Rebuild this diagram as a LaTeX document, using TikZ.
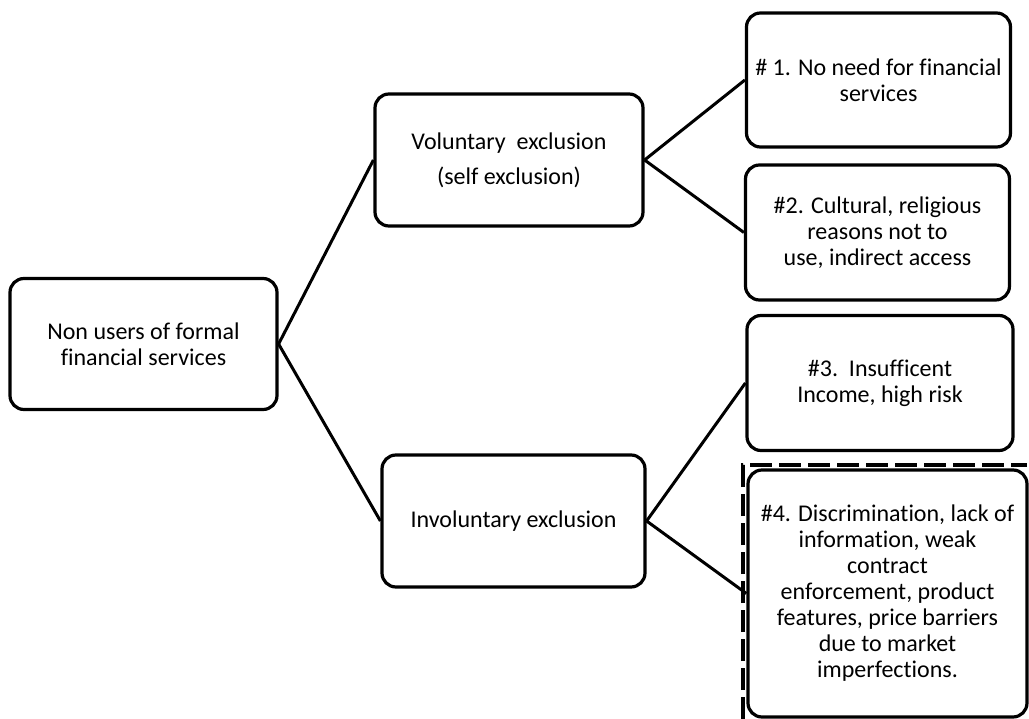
\documentclass[tikz,border=0pt]{standalone}
\usepackage{fontspec}
\setmainfont[Ligatures=NoCommon]{Carlito}
\usepackage{tikz}
\usetikzlibrary{positioning,calc}

\begin{document}
\begin{tikzpicture}[x=1pt,y=-1pt,font=\fontsize{24}{26}\selectfont,
 group/.style={draw,line width=3.2pt,rounded corners=14pt,align=center,inner sep=3pt},
 reason/.style={group,minimum width=264pt,minimum height=134pt},
 link/.style={line width=3pt},
 frame/.style={line width=3.2pt,dash pattern=on 22pt off 7pt}]
\useasboundingbox (0,0) rectangle (1029,719);
\node[group,minimum width=267pt,minimum height=131pt] (nonusers) at (143.5,344) {Non users of formal\\financial services};
\node[group,minimum width=268pt,minimum height=132pt] (vol) at (509,160) {Voluntary\ \ exclusion\\[9pt](self exclusion)};
\node[group,minimum width=263pt,minimum height=132pt] (invol) at (513.5,521) {Involuntary exclusion};
\node[reason] (r1) at (878.5,80) {\# 1. No need for financial\\services};
\node[reason,minimum height=135pt] (r2) at (877.5,232.5) {\#2. Cultural, religious\\reasons not to\\use, indirect access};
\node[reason,minimum width=266pt,minimum height=135pt] (r3) at (880,383) {\#3.\ \ Insufficent\\Income, high risk};
\node[reason,minimum width=279pt,minimum height=247pt] (r4) at (887.5,593.5) {\#4. Discrimination, lack of\\information, weak\\contract\\enforcement, product\\features, price barriers\\due to market\\imperfections.};
% dashed frame round #4
\coordinate (fbot) at (743,719);
\coordinate (fcorner) at (743,465);
\coordinate (fright) at (1027,465);
\draw[frame] (fbot)--(fcorner)--(fright);
\draw[link] (nonusers.east)--(vol.west);
\draw[link] (nonusers.east)--(invol.west);
\draw[link] (vol.east)--(r1.west);
\draw[link] (vol.east)--(r2.west);
\draw[link] (invol.east)--(r3.west);
\draw[link] (invol.east)--(r4.west);
\end{tikzpicture}
\end{document}
